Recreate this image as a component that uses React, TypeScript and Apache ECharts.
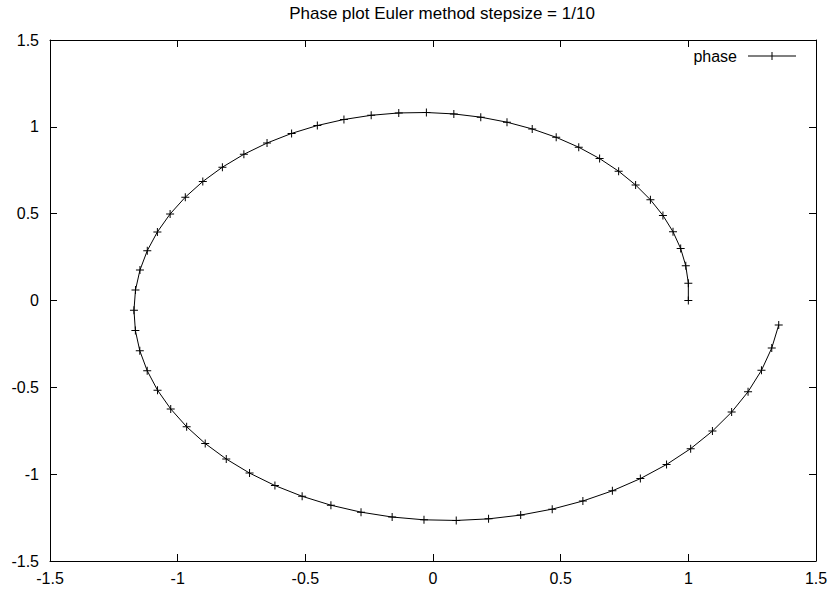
import React, { useEffect, useRef } from "react";
import * as echarts from "echarts";

const TITLE = "Phase plot Euler method stepsize = 1/10";
const SERIES_NAME = "phase";

const xValues = [
  1.0, 1.0, 0.99, 0.97, 0.94, 0.9005, 0.8515, 0.7935, 0.727, 0.6525,
  0.5708, 0.4825, 0.3886, 0.2898, 0.1871, 0.0816, -0.0259, -0.1341, -0.2421, -0.3488,
  -0.453, -0.5538, -0.65, -0.7407, -0.8248, -0.9016, -0.9701, -1.0296, -1.0794, -1.119,
  -1.1477, -1.1652, -1.1712, -1.1656, -1.1483, -1.1193, -1.0789, -1.0272, -0.9648, -0.8921,
  -0.8097, -0.7185, -0.6191, -0.5125, -0.3998, -0.2819, -0.16, -0.0353, 0.091, 0.2176,
  0.3434, 0.4669, 0.587, 0.7025, 0.8121, 0.9147, 1.0091, 1.0944, 1.1696, 1.2339,
  1.2864, 1.3267, 1.354,
];

const yValues = [
  0.0, 0.1, 0.2, 0.299, 0.396, 0.49, 0.5801, 0.6652, 0.7446, 0.8173,
  0.8825, 0.9396, 0.9878, 1.0267, 1.0557, 1.0744, 1.0825, 1.08, 1.0665, 1.0423,
  1.0075, 0.9622, 0.9068, 0.8418, 0.7677, 0.6852, 0.5951, 0.4981, 0.3951, 0.2871,
  0.1753, 0.0605, -0.056, -0.1732, -0.2897, -0.4046, -0.5165, -0.6244, -0.7271, -0.8236,
  -0.9128, -0.9938, -1.0656, -1.1275, -1.1788, -1.2188, -1.2469, -1.2629, -1.2665, -1.2574,
  -1.2356, -1.2013, -1.1546, -1.0959, -1.0256, -0.9444, -0.853, -0.752, -0.6426, -0.5256,
  -0.4023, -0.2736, -0.141,
];

const AXIS_MIN = -1.5;
const AXIS_MAX = 1.5;
const AXIS_STEP = 0.5;

const FONT = "Liberation Sans, Arial, sans-serif";
const FONT_SIZE = 16;

const PLUS_PATH =
  "path://M3.5,0 H4.5 V3.5 H8 V4.5 H4.5 V8 H3.5 V4.5 H0 V3.5 H3.5 Z";
const LEGEND_ICON =
  "path://M0,3.5 H48 V4.5 H0 Z M23.5,0 H24.5 V8 H23.5 Z";

export default function App() {
  const ref = useRef<HTMLDivElement>(null);

  useEffect(() => {
    if (!ref.current) return;
    const chart = echarts.init(ref.current, undefined, { renderer: "svg" });
    const data = xValues.map((x, i) => [x, yValues[i]]);

    const baseAxis = (showLabel: boolean) => ({
      type: "value" as const,
      min: AXIS_MIN,
      max: AXIS_MAX,
      interval: AXIS_STEP,
      axisLine: { show: true, onZero: false, lineStyle: { color: "#000", width: 1 } },
      axisTick: { show: true, inside: true, length: 7, lineStyle: { color: "#000", width: 1 } },
      splitLine: { show: false },
      axisLabel: {
        show: showLabel,
        color: "#000",
        fontFamily: FONT,
        fontSize: FONT_SIZE,
      },
    });

    chart.setOption({
      animation: false,
      backgroundColor: "#fff",
      title: {
        text: TITLE,
        left: 437,
        textAlign: "center",
        top: 0,
        textStyle: {
          color: "#000",
          fontFamily: FONT,
          fontSize: 17,
          fontWeight: "normal",
        },
      },
      legend: {
        data: [{ name: SERIES_NAME, icon: LEGEND_ICON }],
        right: 31,
        top: 43,
        align: "right",
        itemWidth: 48,
        itemHeight: 8,
        itemGap: 10,
        itemStyle: { color: "#000" },
        textStyle: { color: "#000", fontFamily: FONT, fontSize: FONT_SIZE, padding: [0, 6, 0, 0] },
      },
      grid: { left: 50, right: 16, top: 40, bottom: 29, containLabel: false },
      xAxis: [
        { ...baseAxis(true), position: "bottom", axisLabel: { ...baseAxis(true).axisLabel, margin: 9 } },
        { ...baseAxis(false), position: "top" },
      ],
      yAxis: [
        { ...baseAxis(true), position: "left", axisLabel: { ...baseAxis(true).axisLabel, margin: 11 } },
        { ...baseAxis(false), position: "right" },
      ],
      series: [
        {
          name: SERIES_NAME,
          type: "line",
          data,
          xAxisIndex: 0,
          yAxisIndex: 0,
          symbol: PLUS_PATH,
          symbolSize: 8,
          showAllSymbol: true,
          lineStyle: { color: "#000", width: 1 },
          itemStyle: { color: "#000" },
        },
      ],
    });

    return () => chart.dispose();
  }, []);

  return <div ref={ref} style={{ width: 832, height: 590, position: "absolute", left: 0, top: 0 }} />;
}
